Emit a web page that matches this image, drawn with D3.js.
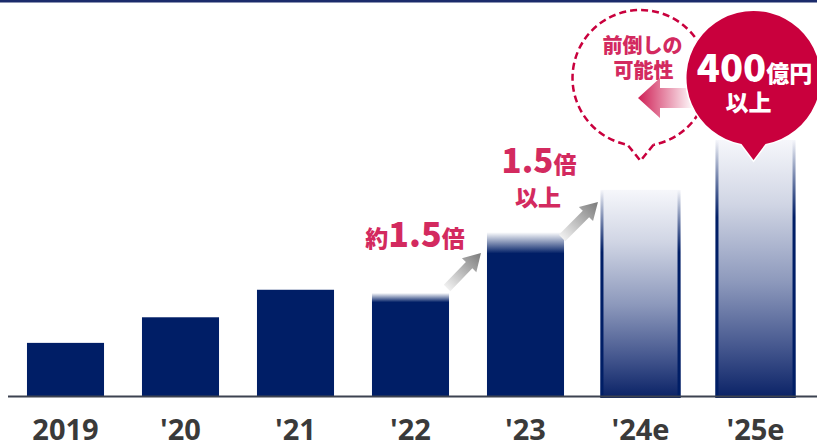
<!DOCTYPE html>
<html>
<head>
<meta charset="utf-8">
<script src="https://cdn.jsdelivr.net/npm/d3@7"></script>
<style>
  body { margin: 0; background: #fff; }
  svg { display: block; }
</style>
</head>
<body>
<div id="chart"></div>
<script>
const years = ["2019", "'20", "'21", "'22", "'23", "'24e", "'25e"];
const values = [83, 123, 166, 161, 256, 322, 400];
const estimated = ["'24e", "'25e"];

const W = 817, H = 446;
const navy = "#001e66";
const pink = "#d32a5f";
const red = "#c9003d";
const jp = "'Noto Sans CJK JP', 'Noto Sans', sans-serif";

const svg = d3.select("#chart").append("svg")
  .attr("width", W)
  .attr("height", H);

const x = d3.scaleBand().domain(years).range([8, 813]).paddingInner(0.33).paddingOuter(0.165);
const y = d3.scaleLinear().domain([0, 400]).range([396, 140]);
const bw = x.bandwidth();

const defs = svg.append("defs");

// top fade on the actual bars that grew
function fadeGrad(id, stop) {
  const g = defs.append("linearGradient").attr("id", id)
    .attr("x1", 0).attr("y1", 0).attr("x2", 0).attr("y2", 1);
  g.append("stop").attr("offset", 0).attr("stop-color", "#fff");
  g.append("stop").attr("offset", stop).attr("stop-color", navy);
  g.append("stop").attr("offset", 1).attr("stop-color", navy);
}
fadeGrad("fade22", 0.09);
fadeGrad("fade23", 0.13);

const estGrad = defs.append("linearGradient").attr("id", "est")
  .attr("x1", 0).attr("y1", 0).attr("x2", 0).attr("y2", 1);
estGrad.append("stop").attr("offset", 0).attr("stop-color", "#f6f7fb");
estGrad.append("stop").attr("offset", 0.25).attr("stop-color", "#d0d5e4");
estGrad.append("stop").attr("offset", 0.55).attr("stop-color", "#8d99bc");
estGrad.append("stop").attr("offset", 0.8).attr("stop-color", "#46588f");
estGrad.append("stop").attr("offset", 1).attr("stop-color", "#0a2266");

const edgeGrad = defs.append("linearGradient").attr("id", "edge")
  .attr("x1", 0).attr("y1", 0).attr("x2", 0).attr("y2", 1);
edgeGrad.append("stop").attr("offset", 0).attr("stop-color", navy).attr("stop-opacity", 0);
edgeGrad.append("stop").attr("offset", 0.3).attr("stop-color", navy).attr("stop-opacity", 1);
edgeGrad.append("stop").attr("offset", 1).attr("stop-color", navy).attr("stop-opacity", 1);

const grayGrad = defs.append("linearGradient").attr("id", "grayArrow")
  .attr("x1", 0).attr("y1", 0).attr("x2", 1).attr("y2", 0);
grayGrad.append("stop").attr("offset", 0).attr("stop-color", "#f0f0f0");
grayGrad.append("stop").attr("offset", 1).attr("stop-color", "#7a7a7a");

const pinkGrad = defs.append("linearGradient").attr("id", "pinkArrow")
  .attr("x1", 0).attr("y1", 0).attr("x2", 1).attr("y2", 0);
pinkGrad.append("stop").attr("offset", 0).attr("stop-color", "#cf1f55");
pinkGrad.append("stop").attr("offset", 1).attr("stop-color", "#ffffff");

// top rule
svg.append("rect").attr("x", 0).attr("y", 0).attr("width", W).attr("height", 2.5).attr("fill", "#1b2b6b");

const data = years.map((d, i) => ({ year: d, value: values[i] }));

// solid bars
svg.selectAll(".bar")
  .data(data.filter(d => !estimated.includes(d.year)))
  .join("rect")
  .attr("class", "bar")
  .attr("x", d => x(d.year))
  .attr("y", d => y(d.value))
  .attr("width", bw)
  .attr("height", d => y(0) - y(d.value))
  .attr("fill", d => d.year === "'22" ? "url(#fade22)" : d.year === "'23" ? "url(#fade23)" : navy);

// estimate bars
const est = svg.selectAll(".est")
  .data(data.filter(d => estimated.includes(d.year)))
  .join("g")
  .attr("class", "est");

est.append("rect")
  .attr("x", d => x(d.year) - 1.5)
  .attr("y", d => y(d.value))
  .attr("width", bw + 3)
  .attr("height", d => y(0) - y(d.value) + 2)
  .attr("fill", "url(#est)");

est.append("rect")
  .attr("x", d => x(d.year) - 1.5)
  .attr("y", d => y(d.value))
  .attr("width", 3)
  .attr("height", d => y(0) - y(d.value) + 2)
  .attr("fill", "url(#edge)");

est.append("rect")
  .attr("x", d => x(d.year) + bw - 1.5)
  .attr("y", d => y(d.value))
  .attr("width", 3)
  .attr("height", d => y(0) - y(d.value) + 2)
  .attr("fill", "url(#edge)");

// baseline
svg.append("line")
  .attr("x1", 8).attr("x2", W)
  .attr("y1", y(0) + 0.5).attr("y2", y(0) + 0.5)
  .attr("stroke", "#3c4250").attr("stroke-width", 2);

// category labels
svg.selectAll(".xlab")
  .data(years)
  .join("text")
  .attr("class", "xlab")
  .attr("x", d => x(d) + bw / 2)
  .attr("y", 440)
  .attr("text-anchor", "middle")
  .attr("font-family", "'Open Sans', sans-serif")
  .attr("font-weight", 700)
  .attr("font-size", 29)
  .attr("fill", "#3a3a3a")
  .text(d => d);

// gray growth arrows
function grayArrow(x0, y0, x1, y1) {
  const len = Math.hypot(x1 - x0, y1 - y0);
  const ang = Math.atan2(y1 - y0, x1 - x0) * 180 / Math.PI;
  const hl = 17, sw = 4.5, hw = 10;
  svg.append("path")
    .attr("d", `M0,${-sw} L${len - hl},${-sw} L${len - hl},${-hw} L${len},0 L${len - hl},${hw} L${len - hl},${sw} L0,${sw} Z`)
    .attr("transform", `translate(${x0},${y0}) rotate(${ang})`)
    .attr("fill", "url(#grayArrow)");
}
grayArrow(x("'22") + bw - 2, 288, x("'23") - 6, 253);
grayArrow(x("'23") + bw - 2, 238, x("'24e") - 4, 202);

// growth labels
const lab1 = svg.append("text")
  .attr("x", 415).attr("y", 247)
  .attr("text-anchor", "middle")
  .attr("font-family", jp).attr("font-weight", 900)
  .attr("fill", pink);
lab1.append("tspan").attr("font-size", 23).text("約");
lab1.append("tspan").attr("font-size", 34).text("1.5");
lab1.append("tspan").attr("font-size", 23).text("倍");

const lab2 = svg.append("text")
  .attr("x", 539).attr("y", 173)
  .attr("text-anchor", "middle")
  .attr("font-family", jp).attr("font-weight", 900)
  .attr("fill", pink);
lab2.append("tspan").attr("font-size", 33).text("1.5");
lab2.append("tspan").attr("font-size", 23).text("倍");

svg.append("text")
  .attr("x", 538).attr("y", 206)
  .attr("text-anchor", "middle")
  .attr("font-family", jp).attr("font-weight", 900)
  .attr("font-size", 23)
  .attr("fill", pink)
  .text("以上");

// dashed speech bubble over '24e
const bx = x("'24e") + bw / 2, by = 78, br = 68;
const tailHalf = 13;
const tailY = by + Math.sqrt(br * br - tailHalf * tailHalf);
svg.append("path")
  .attr("d", `M${bx + tailHalf},${tailY} L${bx},${tailY + 16} L${bx - tailHalf},${tailY} A${br},${br} 0 1 1 ${bx + tailHalf},${tailY}`)
  .attr("fill", "none")
  .attr("stroke", red)
  .attr("stroke-width", 2.5)
  .attr("stroke-dasharray", "7,4");

svg.append("text")
  .attr("x", bx + 2).attr("y", 53)
  .attr("text-anchor", "middle")
  .attr("font-family", jp).attr("font-weight", 900)
  .attr("font-size", 20)
  .attr("fill", pink)
  .text("前倒しの");
svg.append("text")
  .attr("x", bx + 3).attr("y", 78)
  .attr("text-anchor", "middle")
  .attr("font-family", jp).attr("font-weight", 900)
  .attr("font-size", 20)
  .attr("fill", pink)
  .text("可能性");

// pink arrow pointing left
const ax = 638, ay = 98;
svg.append("path")
  .attr("d", `M${ax},${ay} L${ax + 22},${ay - 20} L${ax + 22},${ay - 10} L${ax + 56},${ay - 10} L${ax + 56},${ay + 10} L${ax + 22},${ay + 10} L${ax + 22},${ay + 20} Z`)
  .attr("fill", "url(#pinkArrow)");

// red badge over '25e
const cx = x("'25e") + bw / 2 - 2, cy = 78, cr = 67;
const pHalf = 12;
const pY = cy + Math.sqrt(cr * cr - pHalf * pHalf);
svg.append("path")
  .attr("d", `M${cx + pHalf},${pY} L${cx},${pY + 16} L${cx - pHalf},${pY} A${cr},${cr} 0 1 1 ${cx + pHalf},${pY} Z`)
  .attr("fill", red)
  .attr("stroke", "#fff")
  .attr("stroke-width", 3)
  .attr("paint-order", "stroke");

const big = svg.append("text")
  .attr("x", cx + 1).attr("y", 82)
  .attr("text-anchor", "middle")
  .attr("font-family", jp).attr("font-weight", 900)
  .attr("fill", "#fff");
big.append("tspan").attr("font-size", 38).text("400");
big.append("tspan").attr("font-size", 23).text("億円");

svg.append("text")
  .attr("x", cx - 5).attr("y", 111)
  .attr("text-anchor", "middle")
  .attr("font-family", jp).attr("font-weight", 900)
  .attr("font-size", 23)
  .attr("fill", "#fff")
  .text("以上");
</script>
</body>
</html>
